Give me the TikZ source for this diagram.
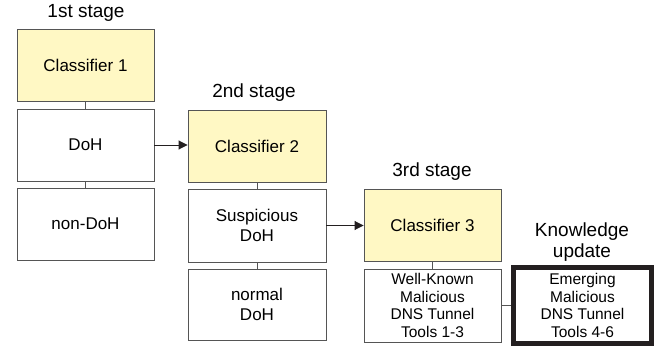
\documentclass[tikz,border=0pt]{standalone}
\usepackage{fontspec}
\setmainfont{Liberation Sans}
\usetikzlibrary{arrows.meta}
\definecolor{clsfill}{RGB}{255,248,196}
\definecolor{edge}{RGB}{85,85,85}
\definecolor{heavy}{RGB}{35,31,32}
\begin{document}
\begin{tikzpicture}[x=1pt,y=-1pt,
  box/.style={draw=edge,line width=0.9pt,fill=white,minimum width=137pt,minimum height=72pt,inner sep=0pt,align=center,font=\fontsize{17}{20}\selectfont},
  cls/.style={box,fill=clsfill},
  small/.style={box,font=\fontsize{15.5}{17.7}\selectfont},
  stagelbl/.style={inner sep=0pt,align=center,font=\fontsize{19}{21}\selectfont},
  link/.style={draw=edge,line width=0.9pt},
  arr/.style={draw=heavy,line width=0.9pt,-{Triangle[length=9pt,width=9pt]}}]
\useasboundingbox (0,0) rectangle (661,347);
% column 1
\node[stagelbl] (s1) at (86,13) {1st stage};
\node[cls] (c1) at (85.5,65) {Classifier 1};
\node[box] (doh) at (85.5,145) {DoH};
\node[box] (ndoh) at (85.5,224) {non-DoH};
% column 2
\node[stagelbl] (s2) at (254,93) {2nd stage};
\node[cls,minimum width=138pt] (c2) at (257,146) {Classifier 2};
\node[box,minimum width=138pt,minimum height=73pt] (sus) at (257,225.5) {Suspicious\\DoH};
\node[box,minimum width=138pt,minimum height=71pt] (norm) at (257,304.5) {normal\\DoH};
% column 3
\node[stagelbl] (s3) at (432,172) {3rd stage};
\node[cls] (c3) at (432.5,225) {Classifier 3};
\node[small,minimum height=73pt] (wk) at (432.5,305.5) {Well-Known\\Malicious\\DNS Tunnel\\Tools 1-3};
% knowledge
\node[stagelbl] (s4) at (582,242) {Knowledge\\update};
\node[small,draw=heavy,line width=5pt,minimum width=138pt,minimum height=76pt] (em) at (582.5,305.5) {Emerging\\Malicious\\DNS Tunnel\\Tools 4-6};
% links
\draw[link] (c1.south) -- (doh.north);
\draw[link] (doh.south) -- (ndoh.north);
\draw[link] (c2.south) -- (sus.north);
\draw[link] (sus.south) -- (norm.north);
\draw[link] (c3.south) -- (wk.north);
\draw[link] (wk.east) -- (em.west);
\draw[arr] (doh.east) -- (c2.west |- doh.east);
\draw[arr] (sus.east) -- (c3.west |- sus.east);
\end{tikzpicture}
\end{document}
